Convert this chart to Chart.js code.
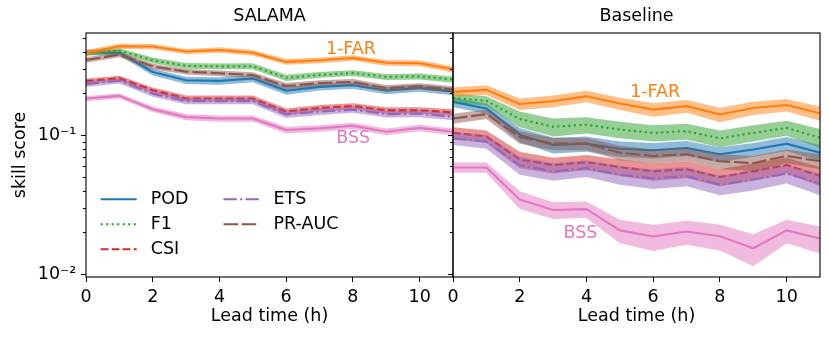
<!DOCTYPE html>
<html><head><meta charset="utf-8">
<script src="https://cdn.jsdelivr.net/npm/chart.js@4/dist/chart.umd.min.js"></script>
<style>
html,body{margin:0;padding:0;background:#fff;width:831px;height:337px;overflow:hidden}
#c1{position:absolute;left:0;top:0}
#c2{position:absolute;left:440px;top:0}
</style></head><body>
<canvas id="c1" width="460" height="337"></canvas>
<canvas id="c2" width="391" height="337"></canvas>
<script>
// ---------- data ----------
const leadTimes = [0,1,2,3,4,5,6,7,8,9,10,11];
const xTickValues = [0,2,4,6,8,10];
const yTickValues = [0.01,0.02,0.03,0.04,0.05,0.06,0.07,0.08,0.09,0.1,0.2,0.3,0.4,0.5];
const yMajorLabels = ['10⁻²','10⁻¹'];
const yMajorValues = [0.01,0.1];
const panelTitles = ['SALAMA','Baseline'];
const metricNames = ['POD','F1','CSI','ETS','PR-AUC','1-FAR','BSS'];

// SALAMA
const salamaPOD   = [0.394,0.392,0.285,0.249,0.246,0.256,0.209,0.223,0.229,0.210,0.219,0.207];
const salamaF1    = [0.392,0.406,0.346,0.316,0.313,0.314,0.259,0.272,0.280,0.263,0.265,0.252];
const salamaCSI   = [0.245,0.257,0.211,0.184,0.184,0.184,0.148,0.157,0.162,0.151,0.151,0.146];
const salamaETS   = [0.233,0.247,0.199,0.176,0.176,0.176,0.141,0.148,0.153,0.142,0.143,0.136];
const salamaPRAUC = [0.348,0.380,0.313,0.287,0.279,0.271,0.226,0.237,0.242,0.218,0.225,0.213];
const salamaFAR1  = [0.392,0.437,0.435,0.400,0.411,0.392,0.337,0.346,0.360,0.332,0.330,0.298];
const salamaBSS   = [0.184,0.192,0.154,0.135,0.132,0.132,0.109,0.112,0.117,0.106,0.113,0.106];
const salamaPODErr   = [0.018,0.018,0.016,0.015,0.015,0.015,0.013,0.013,0.013,0.013,0.013,0.013];
const salamaF1Err    = [0.017,0.017,0.016,0.015,0.015,0.015,0.013,0.013,0.013,0.013,0.013,0.013];
const salamaCSIErr   = [0.011,0.011,0.010,0.009,0.009,0.009,0.008,0.008,0.008,0.008,0.008,0.008];
const salamaETSErr   = [0.011,0.011,0.010,0.009,0.009,0.009,0.008,0.008,0.008,0.008,0.008,0.008];
const salamaPRAUCErr = [0.016,0.016,0.014,0.013,0.013,0.013,0.012,0.012,0.012,0.012,0.012,0.012];
const salamaFAR1Err  = [0.019,0.019,0.019,0.018,0.018,0.018,0.016,0.016,0.016,0.016,0.016,0.015];
const salamaBSSErr   = [0.008,0.008,0.007,0.007,0.007,0.007,0.006,0.006,0.006,0.006,0.006,0.006];

// Baseline
const basePOD   = [0.174,0.156,0.101,0.085,0.087,0.080,0.078,0.081,0.073,0.079,0.087,0.075];
const baseF1    = [0.186,0.177,0.131,0.115,0.119,0.110,0.104,0.107,0.095,0.104,0.113,0.096];
const baseCSI   = [0.104,0.098,0.067,0.061,0.064,0.059,0.055,0.057,0.050,0.055,0.061,0.051];
const baseETS   = [0.095,0.090,0.061,0.055,0.058,0.052,0.049,0.051,0.044,0.048,0.053,0.045];
const basePRAUC = [0.132,0.142,0.097,0.087,0.087,0.075,0.071,0.073,0.065,0.063,0.071,0.065];
const baseFAR1  = [0.205,0.212,0.168,0.176,0.191,0.169,0.153,0.162,0.141,0.157,0.165,0.144];
const baseBSS   = [0.0587,0.0587,0.0345,0.0290,0.0294,0.0207,0.0187,0.0203,0.0188,0.0154,0.0207,0.0181];
const basePODErr   = [0.014,0.013,0.012,0.011,0.011,0.010,0.010,0.010,0.009,0.009,0.010,0.010];
const baseF1Err    = [0.014,0.014,0.017,0.017,0.016,0.015,0.014,0.014,0.013,0.014,0.014,0.015];
const baseCSIErr   = [0.010,0.010,0.009,0.008,0.008,0.008,0.008,0.008,0.007,0.008,0.008,0.008];
const baseETSErr   = [0.010,0.010,0.009,0.008,0.008,0.008,0.008,0.008,0.007,0.008,0.008,0.008];
const basePRAUCErr = [0.011,0.011,0.010,0.009,0.009,0.009,0.008,0.008,0.008,0.008,0.008,0.008];
const baseFAR1Err  = [0.016,0.017,0.016,0.017,0.018,0.017,0.017,0.017,0.017,0.017,0.017,0.017];
const baseBSSErr   = [0.005,0.005,0.005,0.004,0.004,0.004,0.004,0.004,0.004,0.004,0.004,0.004];

// ---------- styles ----------
const FONT = 'DejaVu Sans';
const FS = 17.5;
const colors = {'POD':'#1f77b4','F1':'#2ca02c','CSI':'#d62728','ETS':'#9467bd','PR-AUC':'#8c564b','1-FAR':'#ff7f0e','BSS':'#e377c2'};
const dashes = {'POD':[],'F1':[2.1,3.4],'CSI':[7.7,3.3],'ETS':[13.3,3.3,2.1,3.3],'PR-AUC':[14.5,3.7],'1-FAR':[],'BSS':[]};

function rgba(hex,a){const n=parseInt(hex.slice(1),16);return `rgba(${n>>16},${(n>>8)&255},${n&255},${a})`;}

function buildDatasets(vals, errs){
  const ds=[]; let k=0;
  metricNames.forEach((name,m)=>{
    const v=vals[m], e=errs[m];
    const loIdx=ds.length;
    ds.push({label:name+'_lo', data:leadTimes.map((x,i)=>({x, y:v[i]-e[i]})), borderColor:'transparent', borderWidth:0, pointRadius:0, fill:false, order:-(k++), tension:0});
    ds.push({label:name+'_hi', data:leadTimes.map((x,i)=>({x, y:v[i]+e[i]})), borderColor:'transparent', borderWidth:0, pointRadius:0, fill:loIdx, backgroundColor:rgba(colors[name],0.5), order:-(k++), tension:0});
    ds.push({label:name, data:leadTimes.map((x,i)=>({x, y:v[i]})), borderColor:colors[name], backgroundColor:colors[name], borderWidth:2.1, borderDash:dashes[name], borderCapStyle:'butt', borderJoinStyle:'round', pointRadius:0, fill:false, order:-(k++), tension:0});
  });
  return ds;
}

const isMajor = v => yMajorValues.some(m=>Math.abs(m-v)<1e-9);

const decorPlugin = {
  id:'decor',
  afterDraw(chart, args, opts){
    const ctx=chart.ctx, a=chart.chartArea, ys=chart.scales.y, xs=chart.scales.x;
    ctx.save();
    ctx.strokeStyle='#000'; ctx.lineWidth=1;
    yTickValues.forEach(v=>{ if(isMajor(v)) return;
      const py=Math.round(ys.getPixelForValue(v))+0.5;
      ctx.beginPath(); ctx.moveTo(a.left-3,py); ctx.lineTo(a.left,py); ctx.stroke();
    });
    ctx.lineWidth=1.1;
    ctx.strokeRect(a.left,a.top,a.right-a.left,a.bottom-a.top);
    ctx.font=`${FS}px "${FONT}"`; ctx.textAlign='center'; ctx.textBaseline='middle';
    (opts.labels||[]).forEach(l=>{
      ctx.fillStyle=colors[l.metric];
      ctx.fillText(l.metric, xs.getPixelForValue(l.x), ys.getPixelForValue(l.y));
    });
    if(opts.legend){
      const L=opts.legend;
      L.items.forEach((name,i)=>{
        const col=Math.floor(i/L.rows), row=i%L.rows;
        const x0=L.colX[col], y=L.rowY[row];
        const ds=chart.data.datasets.find(d=>d.label===name);
        ctx.strokeStyle=ds.borderColor; ctx.lineWidth=ds.borderWidth; ctx.setLineDash(ds.borderDash||[]); ctx.lineCap='butt';
        ctx.beginPath(); ctx.moveTo(x0,y); ctx.lineTo(x0+L.handleLen,y); ctx.stroke();
        ctx.setLineDash([]);
        ctx.fillStyle='#000'; ctx.textAlign='left'; ctx.textBaseline='middle';
        ctx.fillText(name, x0+L.handleLen+L.gap, y);
      });
    }
    ctx.restore();
  }
};

function makeChart(id, title, vals, errs, cfg){
  return new Chart(document.getElementById(id), {
    type:'line',
    data:{datasets:buildDatasets(vals,errs)},
    plugins:[decorPlugin],
    options:{
      responsive:false, animation:false, devicePixelRatio:1,
      layout:{padding:{top:0,right:cfg.padRight,bottom:0,left:0}},
      plugins:{
        legend:{display:false}, tooltip:{enabled:false},
        title:{display:true, text:title, fullSize:false, color:'#000', font:{family:FONT,size:FS,weight:'normal',lineHeight:1.2}, padding:{top:6,bottom:6}},
        decor:{labels:cfg.labels, legend:cfg.legend}
      },
      scales:{
        x:{type:'linear', min:0, max:11,
          afterBuildTicks:s=>{s.ticks=xTickValues.map(v=>({value:v}));},
          afterFit:s=>{s.height=60;},
          ticks:{color:'#000', font:{family:FONT,size:FS}, padding:4.5, maxRotation:0, autoSkip:false},
          grid:{drawOnChartArea:false, drawTicks:true, tickLength:5, color:'#000', lineWidth:1},
          border:{display:false},
          title:{display:true, text:'Lead time (h)', color:'#000', font:{family:FONT,size:FS}, padding:{top:0,bottom:10}}
        },
        y:{type:'logarithmic', min:0.00956, max:0.544,
          afterBuildTicks:s=>{s.ticks=yTickValues.map(v=>({value:v}));},
          afterFit:s=>{s.width=cfg.yWidth;},
          ticks:{display:cfg.showY, color:'#000', font:{family:FONT,size:FS}, padding:4.7, autoSkip:false,
            callback:v=>{const j=yMajorValues.findIndex(m=>Math.abs(m-v)<1e-9); return j>=0?yMajorLabels[j]:'';}},
          grid:{drawOnChartArea:false, drawTicks:true, tickLength:5, lineWidth:1,
            color:c=>(c.tick && isMajor(c.tick.value))?'#000':'rgba(0,0,0,0)'},
          border:{display:false},
          title:{display:cfg.showY, text:'skill score', color:'#000', font:{family:FONT,size:FS}, padding:{top:9.5,bottom:0}}
        }
      }
    }
  });
}

makeChart('c1', panelTitles[0],
  [salamaPOD,salamaF1,salamaCSI,salamaETS,salamaPRAUC,salamaFAR1,salamaBSS],
  [salamaPODErr,salamaF1Err,salamaCSIErr,salamaETSErr,salamaPRAUCErr,salamaFAR1Err,salamaBSSErr],
  {padRight:7, yWidth:86, showY:true,
   labels:[{metric:'1-FAR',x:7.94,y:0.417},{metric:'BSS',x:8.01,y:0.0947}],
   legend:{items:['POD','F1','CSI','ETS','PR-AUC'], rows:3, colX:[100.7,223.5], rowY:[199.3,224.3,249.3], handleLen:36, gap:14}});

makeChart('c2', panelTitles[1],
  [basePOD,baseF1,baseCSI,baseETS,basePRAUC,baseFAR1,baseBSS],
  [basePODErr,baseF1Err,baseCSIErr,baseETSErr,basePRAUCErr,baseFAR1Err,baseBSSErr],
  {padRight:11, yWidth:13, showY:false,
   labels:[{metric:'1-FAR',x:6.06,y:0.203},{metric:'BSS',x:3.82,y:0.0197}],
   legend:null});
</script>
</body></html>
